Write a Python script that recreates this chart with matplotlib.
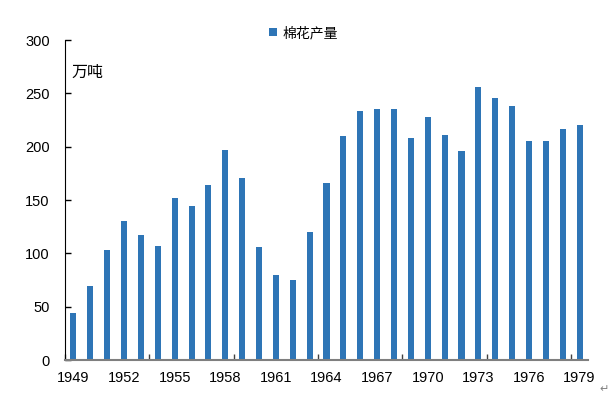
import matplotlib.pyplot as plt
import numpy as np

plt.rcParams['font.family'] = ['Liberation Sans', 'Noto Sans CJK SC', 'DejaVu Sans']

# 棉花产量 (万吨), 1949-1979
years = list(range(1949, 1980))
output = [44.4, 69.2, 103.1, 130.4, 117.5, 106.5, 151.8, 144.5, 164.0, 196.9,
          170.9, 106.3, 80.0, 75.0, 120.0, 166.3, 209.8, 233.7, 235.4, 235.4,
          207.9, 227.7, 210.5, 195.8, 256.2, 246.1, 238.1, 205.5, 204.9, 216.7,
          220.7]
label_years = years[::3]

bar_color = '#2E75B6'

fig = plt.figure(figsize=(6.15, 3.99), dpi=100)
ax = fig.add_axes([0.1057, 0.0977, 0.8504, 0.802])

x = np.arange(len(years))
ax.bar(x, output, width=0.36, color=bar_color, label='棉花产量')

ax.set_xlim(-0.5, len(years) - 0.5)
ax.set_ylim(0, 300)
ax.set_yticks(np.arange(0, 301, 50))
ax.tick_params(axis='y', direction='in', length=4, width=1, pad=11,
               labelsize=10.5, colors='black')

# tick marks every 5 categories on boundaries, labels every 3 years
ax.set_xticks(np.arange(-0.5, len(years), 5))
ax.set_xticklabels([])
ax.tick_params(axis='x', which='major', direction='in', length=4, width=1,
               color='#404040')
ax.set_xticks([years.index(y) for y in label_years], minor=True)
ax.set_xticklabels([str(y) for y in label_years], minor=True)
ax.tick_params(axis='x', which='minor', length=0, pad=8, labelsize=10.5)

for side in ['top', 'right']:
    ax.spines[side].set_visible(False)
ax.spines['left'].set_color('black')
ax.spines['bottom'].set_color('#7f7f7f')
ax.spines['bottom'].set_linewidth(1.5)

ax.text(0.012, 0.90, '万吨', transform=ax.transAxes, fontsize=11.5,
        family=['Noto Sans CJK SC', 'DejaVu Sans'], va='center', ha='left')

leg = ax.legend(loc='center', bbox_to_anchor=(0.456, 1.022), frameon=False,
                handlelength=0.6, handleheight=0.6, handletextpad=0.4,
                prop={'family': ['Noto Sans CJK SC', 'DejaVu Sans'], 'size': 10})

fig.text(0.99, 0.025, '↵', color='#808080', fontsize=8, ha='right', va='center',
         family='DejaVu Sans')

fig.savefig('out.png', dpi=100)
